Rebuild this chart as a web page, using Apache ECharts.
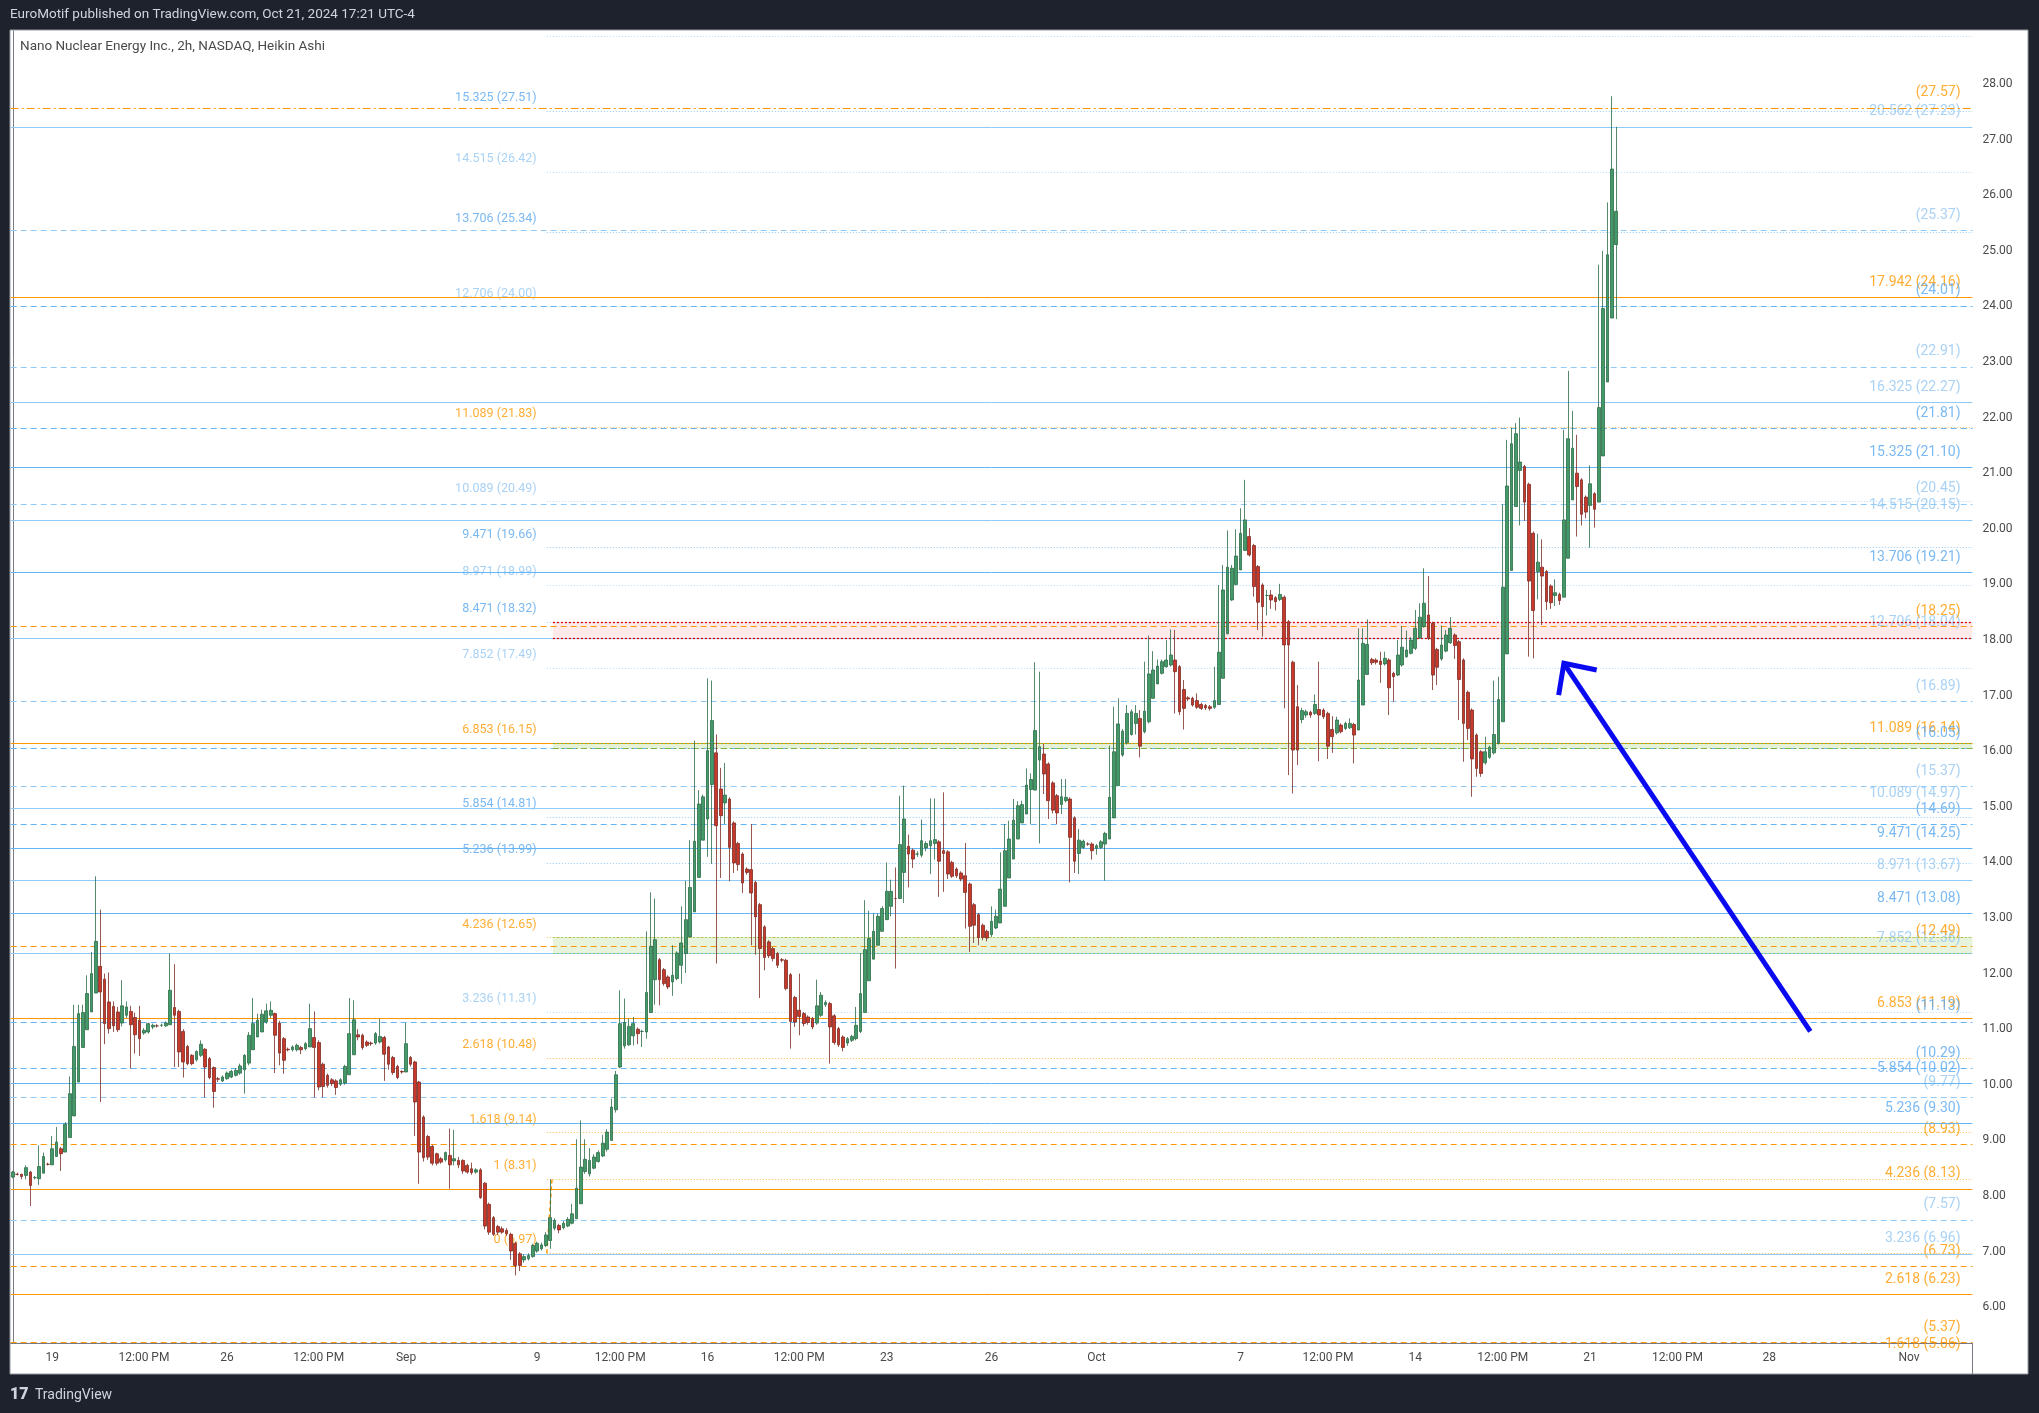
<!DOCTYPE html>
<html><head><meta charset="utf-8">
<script src="https://cdn.jsdelivr.net/npm/echarts@6/dist/echarts.min.js"></script>
<style>html,body{margin:0;padding:0;background:#1e222d;}#c{width:2039px;height:1413px;}</style>
</head><body><div id="c"></div>
<script>
// ---- Heikin Ashi 2h bars: [open, close, low, high] ----
const barsP1 = [
[8.34,8.43,8.32,8.45],[8.39,8.39,8.37,8.42],[8.39,8.35,8.30,8.40],[8.37,8.51,8.30,8.55],[8.43,8.19,7.82,8.45],
[8.33,8.33,8.30,8.36],[8.31,8.53,8.20,8.91],[8.41,8.71,8.41,8.78],[8.57,8.57,8.55,8.60],[8.56,8.85,8.56,9.08],
[8.71,8.97,8.71,9.24],[8.85,8.76,8.45,8.88],[8.79,9.29,8.79,9.33],[9.05,9.84,9.05,10.15],[9.44,10.69,9.44,11.44],
[10.05,11.28,10.05,11.44],[10.67,11.30,10.67,11.44],[10.99,11.64,10.99,11.97],[11.31,12.00,11.31,12.39],[11.65,12.58,11.65,13.75],
[12.13,11.67,9.69,13.15],[11.90,11.10,10.73,12.00],[11.49,11.01,10.92,12.02],[11.41,11.06,10.95,11.50],[11.31,10.99,10.95,11.40],
[11.11,11.42,11.05,11.88],[11.25,11.40,11.20,11.50],[11.32,11.08,10.29,11.42],[11.21,10.90,10.56,11.30],[11.16,10.83,10.52,11.42],
[10.93,10.98,10.90,11.02],[10.95,11.10,10.92,11.12],[11.04,11.07,11.00,11.10],[11.06,11.06,11.03,11.09],[11.07,11.07,11.04,11.10],
[11.06,11.11,11.04,11.14],[11.08,11.70,11.08,12.36],[11.39,11.25,10.32,12.17],[11.32,10.59,10.32,11.35],[10.96,10.41,10.13,11.00],
[10.69,10.38,10.35,10.72],[10.53,10.38,10.35,10.55],[10.45,10.60,10.42,10.62],[10.53,10.73,10.50,10.80],[10.64,10.32,9.77,10.66],
[10.47,10.13,10.10,10.50],[10.31,9.88,9.59,10.33],[10.11,10.10,10.05,10.14],[10.07,10.14,10.05,10.17],[10.11,10.21,10.09,10.24],
[10.14,10.24,10.12,10.27],[10.17,10.26,10.15,10.30],[10.21,10.34,10.18,10.38],[10.27,10.53,9.84,10.55],[10.39,10.89,10.35,10.95],
[10.63,11.10,10.63,11.56],[10.86,11.16,10.86,11.28],[10.95,11.27,10.95,11.35],[11.13,11.33,11.10,11.46],[11.25,11.34,11.20,11.50],
[11.28,10.89,10.21,11.30],[11.11,10.57,10.35,11.15],[10.83,10.44,10.20,10.86],[10.64,10.63,10.60,10.67]
];
const barsP2 = [
[10.63,10.68,10.60,10.71],[10.63,10.71,10.60,10.74],[10.67,10.63,10.55,10.70],[10.65,10.74,10.62,10.77],[10.68,11.01,10.68,11.46],
[10.85,10.67,9.77,11.32],[10.76,9.96,9.90,10.80],[10.37,9.97,9.77,10.40],[10.17,9.99,9.95,10.20],[10.09,10.02,9.98,10.12],
[10.07,9.95,9.82,10.10],[10.01,10.09,9.98,10.12],[10.03,10.33,10.00,10.36],[10.18,10.92,10.18,11.56],[10.54,11.17,10.54,11.52],
[10.90,10.86,10.80,11.00],[10.89,10.67,10.63,10.92],[10.77,10.71,10.68,10.80],[10.75,10.74,10.70,10.78],[10.75,10.92,10.72,10.95],
[10.77,10.87,10.74,11.19],[10.85,10.55,10.07,10.88],[10.68,10.37,10.27,10.70],[10.49,10.22,10.18,10.52],[10.33,10.13,10.10,10.36],
[10.24,10.23,10.20,10.26],[10.23,10.74,10.23,11.11],[10.49,10.37,10.33,10.52],[10.41,9.69,9.08,10.43],[10.05,8.79,8.22,10.07],
[9.42,8.69,8.62,9.45],[9.07,8.70,8.65,9.10],[8.89,8.59,8.55,8.92],[8.76,8.59,8.55,8.78],[8.67,8.61,8.58,8.70],
[8.65,8.78,8.62,8.80],[8.73,8.56,8.13,9.21],[8.63,8.67,8.55,9.19],[8.64,8.56,8.50,8.70],[8.64,8.45,8.40,8.66],
[8.55,8.43,8.40,8.58],[8.49,8.42,8.38,8.60],[8.43,8.47,8.40,8.50],[8.47,7.97,7.95,8.50],[8.23,7.46,7.40,8.25],
[7.85,7.35,7.30,7.88],[7.61,7.31,7.28,7.64],[7.45,7.35,7.30,7.48],[7.41,7.35,7.32,7.45],[7.38,7.32,7.28,7.42],
[7.31,7.01,6.85,7.34],[7.15,6.75,6.57,7.18],[6.96,6.75,6.65,6.99],[6.85,6.91,6.80,6.95],[6.87,6.93,6.84,6.97],
[6.91,7.11,6.89,7.14],[7.01,7.15,6.98,7.18],[7.05,7.12,7.02,7.16],[7.11,7.30,7.08,7.35],[7.20,7.61,7.05,8.30],
[7.42,7.56,7.38,7.60],[7.47,7.39,7.33,7.50],[7.43,7.51,7.40,7.55],[7.46,7.58,7.44,7.62],[7.51,7.68,7.49,7.86],
[7.59,8.14,7.59,9.02],[7.86,8.52,7.86,9.36],[8.44,8.66,8.40,9.02],[8.40,8.64,8.35,8.86],[8.50,8.70,8.48,8.75],
[8.62,8.78,8.60,8.82],[8.72,8.95,8.70,9.10],[8.84,9.15,8.80,9.20],[9.00,9.60,9.00,9.75]
];
const barsP3 = [
[9.55,10.18,9.50,10.25],[10.32,11.10,10.30,11.70],[10.70,11.12,10.65,11.55],[10.72,11.05,10.70,11.19],[10.88,11.10,10.71,11.22],
[11.00,10.92,10.73,11.03],[10.96,10.96,10.68,10.99],[10.95,11.66,10.83,12.76],[11.30,12.49,11.30,13.46],[11.89,12.61,11.44,13.35],
[12.25,11.89,11.43,12.28],[12.07,11.82,11.78,12.10],[11.94,11.76,11.72,11.97],[11.85,11.97,11.60,12.51],[11.91,12.37,11.88,12.40],
[12.15,12.55,11.82,13.21],[12.36,12.97,12.01,13.67],[12.66,13.55,12.66,14.40],[13.11,14.38,13.11,16.19],[13.73,15.05,13.73,15.30],
[14.40,15.18,14.40,15.22],[14.78,16.01,14.10,17.31],[15.40,16.55,13.97,17.27],[15.97,14.66,12.18,16.30],[15.32,14.84,13.72,15.70],
[15.07,15.21,14.69,15.79],[15.14,14.27,13.66,15.17],[14.71,13.99,13.81,14.74],[14.34,13.96,13.85,14.37],[14.15,13.63,13.45,14.18],
[13.88,13.82,13.78,13.91],[13.87,13.45,12.51,14.69],[13.64,13.02,12.34,13.67],[13.24,12.45,11.56,13.27],[12.84,12.29,12.06,12.87],
[12.57,12.32,12.28,12.60],[12.45,12.27,12.22,12.48],[12.36,12.15,12.10,12.39],[12.25,12.24,12.20,12.28],[12.24,11.73,11.70,12.27],
[11.98,11.14,10.65,12.01],[11.57,11.13,11.04,11.60],[11.34,11.23,10.89,12.00],[11.28,11.10,11.05,11.31],[11.22,11.12,11.08,11.25],
[11.19,11.04,11.00,11.22],[11.11,11.42,11.08,11.89],[11.25,11.61,11.22,11.67],[11.44,11.48,11.40,11.52],[11.46,11.04,10.38,11.49],
[11.24,10.76,10.72,11.27],[11.01,10.72,10.68,11.04],[10.86,10.67,10.60,10.89],[10.75,10.83,10.70,10.86],[10.80,10.87,10.77,10.90],
[10.83,11.07,10.80,11.40],[10.96,11.64,10.93,12.37],[11.30,12.43,11.30,13.32],[11.87,12.63,11.87,13.13],[12.26,12.76,12.26,13.08],
[12.51,13.03,12.51,13.08],[12.76,13.17,12.76,13.21],[12.97,13.48,12.97,14.00],[13.21,13.48,13.03,13.69],[13.35,13.35,12.09,13.91],
[13.35,14.32,13.35,15.20],[13.82,14.78,13.27,15.38],[14.29,14.15,13.55,14.50],[14.22,14.06,13.90,14.25],[14.15,14.15,14.10,14.20],
[14.13,14.39,14.09,14.77],[14.26,14.34,14.20,14.38],[14.30,14.39,13.79,15.15],[14.34,14.41,14.05,15.15],[14.37,14.02,13.38,14.40],
[14.21,14.16,13.47,15.26],[14.19,13.79,13.70,14.22],[14.00,13.75,13.72,14.03],[13.88,13.76,13.72,13.91],[13.81,13.70,13.66,13.84],
[13.76,13.46,12.81,14.35],[13.61,12.85,12.39,13.64],[13.24,12.87,12.55,13.27],[13.06,12.65,12.51,13.09],[12.87,12.65,12.60,12.90],
[12.76,12.64,12.58,12.79],[12.70,12.94,12.66,13.21],[12.82,13.03,12.80,13.15],[12.91,13.52,12.91,14.18],[13.21,14.21,13.21,14.69],
[13.72,14.42,13.72,14.75],[14.06,14.76,14.06,15.14],[14.42,15.02,14.42,15.10],[14.71,15.04,14.71,15.11],[14.87,15.39,14.87,15.69],
[15.31,15.49,14.69,15.60],[15.30,16.37,15.30,17.60],[15.84,16.08,14.34,17.43],[15.95,15.59,15.23,16.13],[15.77,15.11,14.78,15.80],
[15.43,14.94,14.88,15.46],[15.20,14.89,14.69,15.23],[15.04,15.18,14.87,15.50],[15.11,15.17,15.08,15.50],[15.14,14.45,13.64,15.17],
[14.80,14.02,13.81,14.83],[14.16,14.40,13.79,14.60],[14.27,14.38,14.24,14.41],[14.33,14.33,14.30,14.36],[14.33,14.21,14.05,14.36],
[14.25,14.30,14.14,14.33],[14.27,14.37,14.24,14.40],[14.33,14.52,13.67,14.55],[14.42,15.17,14.42,16.10],[14.80,15.99,14.80,16.80],
[15.38,16.49,15.38,16.95]
];
const barsP4 = [
[15.93,16.36,15.90,16.40],[16.15,16.68,16.12,16.83],[16.30,16.71,16.28,16.75],[16.50,16.68,16.30,16.83],[16.59,16.09,15.89,16.74],
[16.35,16.72,16.32,17.61],[16.53,17.39,16.50,18.08],[16.95,17.46,16.95,17.80],[17.21,17.53,17.21,17.65],[17.40,17.61,17.38,17.65],
[17.52,17.64,17.50,18.00],[17.55,17.73,17.52,18.19],[17.64,17.43,16.68,18.18],[17.52,16.71,16.65,17.55],[17.11,16.77,16.39,17.28],
[16.96,16.94,16.90,16.99],[16.95,16.83,16.80,16.98],[16.91,16.79,16.76,17.04],[16.84,16.77,16.74,16.87],[16.82,16.78,16.74,16.85],
[16.80,16.77,16.73,16.83],[16.79,16.91,16.76,17.52],[16.84,17.78,16.84,18.99],[17.31,18.90,17.31,19.35],[18.11,19.31,18.11,19.97],
[18.72,19.29,18.70,19.35],[19.00,19.51,18.98,19.99],[19.26,19.92,19.26,20.37],[19.61,20.16,19.61,20.88],[19.86,19.53,19.50,20.01],
[19.70,18.96,18.78,19.73],[19.32,18.68,18.18,19.35],[18.99,18.60,18.06,19.02],[18.80,18.80,18.44,18.90],[18.81,18.72,18.56,18.90],
[18.76,18.69,18.53,18.79],[18.73,18.82,18.70,19.01],[18.77,17.91,16.77,18.80],[18.33,17.91,15.57,18.36],[17.60,16.02,15.24,17.63],
[16.80,16.02,15.75,17.19],[16.57,16.73,16.50,16.78],[16.65,16.71,16.60,16.75],[16.70,16.65,16.60,16.73],[16.68,16.84,16.65,17.02],
[16.75,16.65,15.82,17.61],[16.74,16.62,16.58,16.77],[16.68,16.09,15.86,16.71],[16.39,16.26,15.97,16.63],[16.33,16.56,16.30,16.62],
[16.47,16.35,16.32,16.50],[16.41,16.50,16.38,16.53],[16.42,16.50,16.40,16.59],[16.48,16.29,15.78,16.51],[16.38,17.28,16.38,18.21],
[16.83,17.94,16.83,18.21],[17.38,17.92,17.38,18.37],[17.65,17.59,17.55,17.68],[17.64,17.60,17.56,17.67],[17.62,17.56,17.23,17.79],
[17.57,17.67,17.54,17.79],[17.64,17.14,16.65,17.67],[17.40,17.34,16.89,17.43],[17.37,17.73,17.35,18.00],[17.55,17.87,17.52,18.25],
[17.70,17.82,17.68,18.17],[17.76,18.00,17.74,18.05],[17.85,18.21,17.82,18.54],[18.04,18.41,18.02,18.66],[18.24,18.66,18.22,19.29],
[18.45,18.03,18.00,19.15],[18.30,17.37,17.10,18.33],[17.83,17.51,17.19,17.86]
];
const barsP5 = [
[17.66,17.91,17.63,18.26],[17.80,18.09,17.78,18.18],[17.95,18.21,17.93,18.41],[18.09,17.90,17.66,18.12],[17.97,17.29,16.56,18.00],
[17.64,16.50,15.81,17.67],[17.06,16.41,16.20,17.09],[16.74,15.86,15.18,16.77],[16.29,15.69,15.54,16.32],[15.99,15.60,15.54,16.02],
[15.79,15.99,15.76,16.26],[15.89,16.07,15.86,16.10],[15.97,16.30,15.94,17.27],[16.14,16.93,16.12,17.34],[16.53,18.95,16.53,20.44],
[17.75,20.77,17.75,21.60],[19.25,21.53,19.25,21.82],[20.40,21.71,20.40,21.90],[21.05,21.20,20.06,22.00],[21.12,20.48,20.14,21.15],
[20.80,19.06,17.70,20.83],[19.92,18.53,17.67,19.95],[19.23,19.40,18.73,19.91],[19.31,19.15,18.27,19.81],[19.23,18.69,18.54,19.26],
[18.97,18.67,18.56,19.00],[18.80,18.85,18.61,19.09],[18.82,18.71,18.63,18.85],[18.77,20.16,18.77,21.78],[19.47,21.62,19.47,22.84],
[20.52,21.45,20.52,22.12],[21.00,20.76,19.86,21.69],[20.88,20.26,20.06,20.91],[20.57,20.30,20.19,20.60],[20.42,20.81,19.66,21.14],
[20.63,20.35,20.02,20.66],[20.48,22.18,20.48,24.75],[21.31,23.96,21.31,25.00],[22.64,24.93,22.64,25.87],[23.79,26.47,23.79,27.78],
[25.11,25.71,23.77,27.23]
];

// ---- time axis (bar slot -> label) ----
const timeTicks = [[9,'19'],[30,'12:00 PM'],[49,'26'],[70,'12:00 PM'],[90,'Sep'],[120,'9'],[139,'12:00 PM'],[159,'16'],
[180,'12:00 PM'],[200,'23'],[224,'26'],[248,'Oct'],[281,'7'],[301,'12:00 PM'],[321,'14'],[341,'12:00 PM'],[361,'21'],
[381,'12:00 PM'],[402,'28'],[434,'Nov']];
const priceTicks = [6,7,8,9,10,11,12,13,14,15,16,17,18,19,20,21,22,23,24,25,26,27,28];

// ---- Fibonacci extension drawn on the right (level, price, tone) ----
const rightFibLevels = ['20.562','17.942','16.325','15.325','14.515','13.706','12.706','11.089','10.089','9.471','8.971','8.471','7.852','6.853','5.854','5.236','4.236','3.236','2.618','1.618'];
const rightFibPrices = [27.23,24.16,22.27,21.10,20.15,19.21,18.04,16.14,14.97,14.25,13.67,13.08,12.36,11.19,10.02,9.30,8.13,6.96,6.23,5.06];
const rightFibTones  = ['l','o','l','b','l','b','l','o','l','b','l','b','l','o','b','b','o','l','o','o'];

// ---- second fib (price-only labels, dashed) ----
const parenPrices = [27.57,25.37,24.01,22.91,21.81,20.45,18.25,16.89,16.05,15.37,14.69,12.49,11.13,10.29,9.77,8.93,7.57,6.73,5.37];
const parenTones  = ['o','l','b','l','b','l','o','l','b','l','b','o','b','b','l','o','l','o','o'];

// ---- fib extension with labels on the left (dotted lines) ----
const leftFibLevels = ['16.325','15.325','14.515','13.706','12.706','11.089','10.089','9.471','8.971','8.471','7.852','6.853','5.854','5.236','4.236','3.236','2.618','1.618','1','0'];
const leftFibPrices = [28.85,27.51,26.42,25.34,24.00,21.83,20.49,19.66,18.99,18.32,17.49,16.15,14.81,13.99,12.65,11.31,10.48,9.14,8.31,6.97];
const leftFibTones  = ['l','b','l','b','l','o','l','b','l','b','l','o','b','b','o','l','o','o','o','o'];

// ---- zones [low, high] ----
const redZone = [18.04, 18.32];
const greenZoneHigh = [16.05, 16.15];
const greenZoneLow = [12.36, 12.66];
// fib anchor (dashed) and the blue arrow, in [bar slot, price]
const fibBase = [[122.2, 6.97],[123.4, 8.31]];
const arrowShaft = [[411.4, 10.96],[355.0, 17.58]];
const arrowHead = [[353.8, 17.01],[355.0, 17.58],[362.5, 17.46]];

// ---- layout constants ----
const SLOTS = 449;
const Y_MIN = 5.356, Y_MAX = 28.953;
const LEFT_LINE_START = 122.2, ZONE_START = 123.6;
const RIGHT_LABEL_X = 445.9, LEFT_LABEL_X = 120.0;
const X0 = -0.5, X1 = SLOTS - 0.5;

const haBars = [].concat(barsP1, barsP2, barsP3, barsP4, barsP5);
const labelAt = {}; timeTicks.forEach(t => { labelAt[t[0]] = t[1]; });
const slots = []; for (let i = 0; i < SLOTS; i++) slots.push(String(i));

const LINE = {b:'#64b5f6', l:'#90caf9', o:'#ff9800'};
const TEXT = {b:'#5aa7ef', l:'#93c7f3', o:'#ff9800'};
const DOT  = {b:'#90caf9', l:'#b9dcf7', o:'#ffb74d'};

function seg(x0, x1, p, color, type, width) {
  return [{coord:[x0, p], lineStyle:{color:color, type:type, width:width}}, {coord:[x1, p]}];
}
const lines = [];
leftFibPrices.forEach((p, i) => lines.push(seg(LEFT_LINE_START, X1, p, DOT[leftFibTones[i]], [1, 2], 1)));
parenPrices.forEach((p, i) => lines.push(seg(X0, X1, p, LINE[parenTones[i]], i === 0 ? [8,3,2,3] : [6,4], 1)));
rightFibPrices.forEach((p, i) => lines.push(seg(X0, X1, p, LINE[rightFibTones[i]], 'solid', 1)));
// zone borders
lines.push(seg(ZONE_START, X1, redZone[1], '#e00000', [2, 2], 1.3));
lines.push(seg(ZONE_START, X1, redZone[0], '#e00000', [2, 2], 1.3));
lines.push(seg(ZONE_START, X1, greenZoneHigh[1], '#7cb342', [2, 2], 1));
lines.push(seg(ZONE_START, X1, greenZoneHigh[0], '#7cb342', [6, 3, 2, 3], 1));
lines.push(seg(ZONE_START, X1, greenZoneLow[1], '#9ccc65', [2, 2], 1));
lines.push(seg(ZONE_START, X1, greenZoneLow[0], '#81c784', [2, 2], 1));
// fib base
lines.push([{coord:fibBase[0], lineStyle:{color:'#ff9800', type:[4,3], width:1.5}}, {coord:fibBase[1]}]);

const areas = [
  [{coord:[ZONE_START, redZone[1]], itemStyle:{color:'rgba(244,67,54,0.11)'}}, {coord:[X1, redZone[0]]}],
  [{coord:[ZONE_START, greenZoneHigh[1]], itemStyle:{color:'rgba(139,195,74,0.22)'}}, {coord:[X1, greenZoneHigh[0]]}],
  [{coord:[ZONE_START, greenZoneLow[1]], itemStyle:{color:'rgba(139,195,74,0.2)'}}, {coord:[X1, greenZoneLow[0]]}]
];

const rightLabels = [];
rightFibPrices.forEach((p, i) => rightLabels.push({value:[RIGHT_LABEL_X, p], name: rightFibLevels[i] + ' (' + p.toFixed(2) + ')', label:{color: TEXT[rightFibTones[i]]}}));
parenPrices.forEach((p, i) => rightLabels.push({value:[RIGHT_LABEL_X, p], name: '(' + p.toFixed(2) + ')', label:{color: TEXT[parenTones[i]]}}));
const leftLabels = [];
leftFibPrices.forEach((p, i) => { if (p < 28.6) leftLabels.push({value:[LEFT_LABEL_X, p], name: leftFibLevels[i] + ' (' + p.toFixed(2) + ')', label:{color: TEXT[leftFibTones[i]]}}); });

const FONT = 'Roboto, "Noto Sans", sans-serif';
const chart = echarts.init(document.getElementById('c'), null, {renderer:'canvas'});
chart.setOption({
  animation: false,
  backgroundColor: '#1e222d',
  graphic: [
    {type:'rect', z:-10, silent:true, shape:{x:10, y:30, width:2018, height:1344}, style:{fill:'#ffffff', stroke:'#9598a1', lineWidth:1}},
    {type:'text', x:10, y:15, silent:true, style:{text:'EuroMotif published on TradingView.com, Oct 21, 2024 17:21 UTC-4', fill:'#d1d4dc', font:'13.5px ' + FONT, verticalAlign:'middle'}},
    {type:'text', x:20, y:47, silent:true, style:{text:'Nano Nuclear Energy Inc., 2h, NASDAQ, Heikin Ashi', fill:'#4a4a4a', font:'13.5px ' + FONT, verticalAlign:'middle'}},
    {type:'line', silent:true, shape:{x1:1972.5, y1:1343, x2:1972.5, y2:1374}, style:{stroke:'#787b86', lineWidth:1}},
    {type:'text', x:10, y:1395, silent:true, style:{text:'17', fill:'#d1d4dc', font:'900 16px ' + FONT, verticalAlign:'middle'}},
    {type:'text', x:35, y:1395, silent:true, style:{text:'TradingView', fill:'#d1d4dc', font:'14px ' + FONT, verticalAlign:'middle'}}
  ],
  grid: {left:10.7, right:66.6, top:31, bottom:70, containLabel:false, outerBoundsMode:'none'},
  xAxis: [
    {type:'category', data:slots, gridIndex:0, boundaryGap:true,
     axisLine:{show:true, lineStyle:{color:'#787b86', width:1}}, axisTick:{show:false}, splitLine:{show:false},
     axisLabel:{interval:(idx) => labelAt[idx] !== undefined, formatter:(v, idx) => labelAt[idx] || '', color:'#4a4a4a', fontSize:12, fontFamily:FONT, margin:9}},
    {type:'value', gridIndex:0, min:X0, max:X1, show:false, splitLine:{show:false}}
  ],
  yAxis: [{type:'value', position:'right', min:Y_MIN, max:Y_MAX, splitLine:{show:false},
    axisLine:{show:true, lineStyle:{color:'#787b86', width:1}}, axisTick:{show:false},
    axisLabel:{customValues:priceTicks, formatter:(v) => v.toFixed(2), color:'#4a4a4a', fontSize:12, fontFamily:FONT, margin:10}}],
  series: [
    {type:'line', name:'levels', xAxisIndex:1, yAxisIndex:0, z:1, data:[[X1, Y_MIN]], showSymbol:false, lineStyle:{opacity:0}, silent:true,
     markLine:{silent:true, symbol:['none','none'], label:{show:false}, emphasis:{disabled:true}, animation:false, data:lines},
     markArea:{silent:true, label:{show:false}, emphasis:{disabled:true}, data:areas}},
    {type:'scatter', name:'rightLabels', xAxisIndex:1, yAxisIndex:0, z:3, clip:false, silent:true, symbolSize:1, itemStyle:{color:'rgba(0,0,0,0)'},
     label:{show:true, position:'left', distance:0, formatter:'{b}', fontSize:14, fontFamily:FONT, offset:[0,-15]}, data:rightLabels},
    {type:'scatter', name:'leftLabels', xAxisIndex:1, yAxisIndex:0, z:3, clip:false, silent:true, symbolSize:1, itemStyle:{color:'rgba(0,0,0,0)'},
     label:{show:true, position:'left', distance:0, formatter:'{b}', fontSize:12.5, fontFamily:FONT, offset:[0,-13]}, data:leftLabels},
    {type:'candlestick', name:'NNE', xAxisIndex:0, yAxisIndex:0, z:5, barWidth:3.2, data:haBars, silent:true,
     itemStyle:{color:'#439a68', color0:'#c8392c', borderColor:'#2c6b47', borderColor0:'#7c2c25', borderWidth:0.8}},
    {type:'line', name:'arrowShaft', xAxisIndex:1, yAxisIndex:0, z:6, data:arrowShaft, showSymbol:false, silent:true, lineStyle:{color:'#0a0af0', width:5}},
    {type:'line', name:'arrowHead', xAxisIndex:1, yAxisIndex:0, z:6, data:arrowHead, showSymbol:false, silent:true, lineStyle:{color:'#0a0af0', width:5, join:'miter'}}
  ]
});
</script></body></html>
